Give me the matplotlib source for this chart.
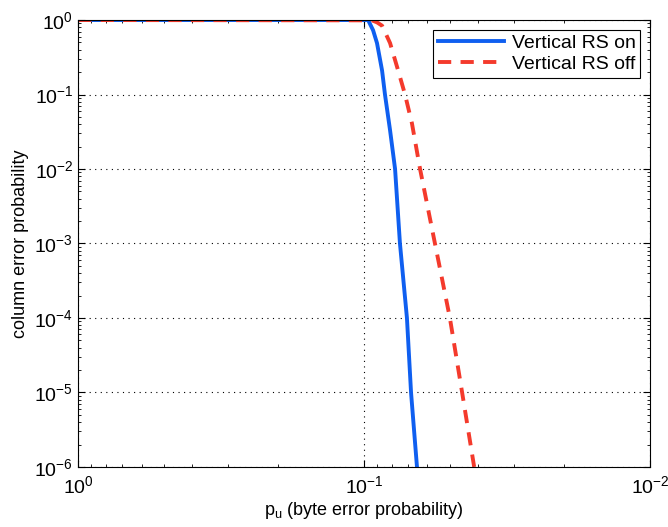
import matplotlib
matplotlib.use("Agg")
import matplotlib.pyplot as plt
from matplotlib.ticker import LogLocator, NullFormatter

# byte error probability p_u and column error probability
p_on = [1.0, 0.0968, 0.0930, 0.0901, 0.0865, 0.0845, 0.0811, 0.0779, 0.0749, 0.0708, 0.0685, 0.0653]
col_on = [1.0, 1.0, 0.73, 0.49, 0.21, 0.1, 0.033, 1e-2, 1e-3, 1e-4, 1e-5, 1e-6]

p_off = [1.0, 0.0938, 0.0901, 0.0865, 0.0811, 0.0760, 0.0719, 0.0680, 0.0637, 0.0565, 0.0501, 0.0454, 0.0412]
col_off = [1.0, 0.99, 0.93, 0.84, 0.49, 0.21, 0.1, 0.041, 1e-2, 1e-3, 1e-4, 1e-5, 1e-6]

plt.rcParams["font.family"] = ["Liberation Sans", "DejaVu Sans"]
plt.rcParams["mathtext.fontset"] = "custom"
plt.rcParams["mathtext.rm"] = "Liberation Sans"
plt.rcParams["mathtext.it"] = "Liberation Sans"

fig = plt.figure(figsize=(6.68, 5.27), dpi=100)
ax = fig.add_axes([0.117, 0.114, 0.856, 0.848])

ax.plot(p_on, col_on, color="#0f5ff0", lw=2.8, label="Vertical RS on")
ax.plot(p_off, col_off, color="#f43a2c", lw=2.8, ls=(0, (3.4, 2.4)), label="Vertical RS off")

ax.set_xscale("log")
ax.set_yscale("log")
ax.set_xlim(1.0, 0.01)
ax.set_ylim(1e-6, 1.0)
ax.xaxis.set_major_locator(LogLocator(base=10, numticks=10))
ax.yaxis.set_major_locator(LogLocator(base=10, numticks=10))
ax.xaxis.set_minor_locator(LogLocator(base=10, subs=range(2, 10), numticks=20))
ax.yaxis.set_minor_locator(LogLocator(base=10, subs=range(2, 10), numticks=20))
ax.xaxis.set_minor_formatter(NullFormatter())
ax.yaxis.set_minor_formatter(NullFormatter())
ax.tick_params(which="both", direction="in", top=True, right=True, labelsize=14)
ax.tick_params(which="major", length=5)
ax.tick_params(which="minor", length=2.5)
ax.tick_params(axis="x", pad=6)
ax.grid(True, which="major", ls=(0, (1, 4)), color="black", lw=0.8)

ax.set_xlabel("p$_{\\mathrm{u}}$ (byte error probability)", fontsize=13, labelpad=2)
ax.set_ylabel("column error probability", fontsize=13, labelpad=4)

leg = ax.legend(loc="upper right", fontsize=14, fancybox=False, framealpha=1,
                edgecolor="black", handlelength=3.4, borderpad=0.25,
                labelspacing=0.15, handletextpad=0.4, borderaxespad=0.5)
leg.get_frame().set_linewidth(0.8)

fig.savefig("out.png", dpi=100)
